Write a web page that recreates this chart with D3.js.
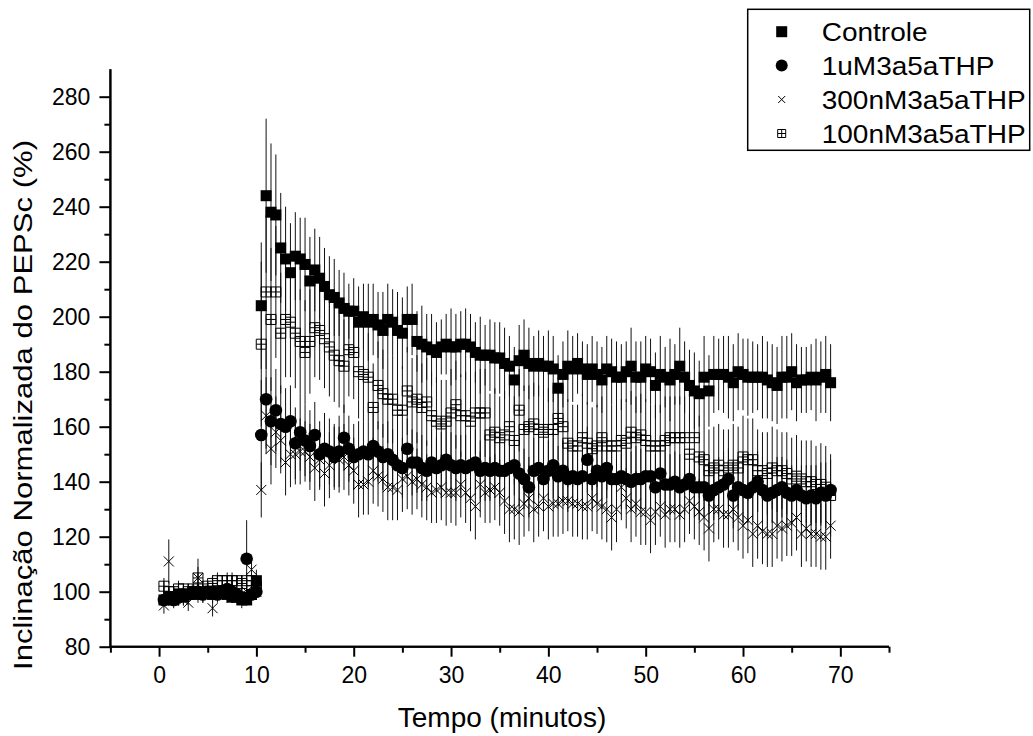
<!DOCTYPE html>
<html><head><meta charset="utf-8">
<script src="https://cdn.jsdelivr.net/npm/d3@7"></script>
<style>body{margin:0;background:#fff} text{font-family:"Liberation Sans",Arial,sans-serif;fill:#000}</style>
</head><body><svg id="c" width="1033" height="736"></svg>
<script>
const times = [0.5,1,1.5,2,2.5,3,3.5,4,4.5,5,5.5,6,6.5,7,7.5,8,8.5,9,9.5,10,
10.5,11,11.5,12,12.5,13,13.5,14,14.5,15,15.5,16,16.5,17,17.5,18,18.5,19,19.5,20,
20.5,21,21.5,22,22.5,23,23.5,24,24.5,25,25.5,26,26.5,27,27.5,28,28.5,29,29.5,30,
30.5,31,31.5,32,32.5,33,33.5,34,34.5,35,35.5,36,36.5,37,37.5,38,38.5,39,39.5,40,
40.5,41,41.5,42,42.5,43,43.5,44,44.5,45,45.5,46,46.5,47,47.5,48,48.5,49,49.5,50,
50.5,51,51.5,52,52.5,53,53.5,54,54.5,55,55.5,56,56.5,57,57.5,58,58.5,59,59.5,60,
60.5,61,61.5,62,62.5,63,63.5,64,64.5,65,65.5,66,66.5,67,67.5,68,68.5,69];

const seriesNames = ["Controle","1uM3a5aTHP","300nM3a5aTHP","100nM3a5aTHP"];

const controle = [97,98,97,99,98,99,100,99,100,100,99,100,100,99,98,98,97,97,99,104,
204,244,238,237,225,221,216,222,221,219,
213,217,214,211,208,207,205,203,202,202,
198,200,198,199,197,195,199,198,195,194,
199,199,191,190,189,188,187,189,190,189,
189,190,190,189,187,186,186,186,185,185,
183,182,177,184,186,183,182,183,182,182,
181,174,179,182,181,183,181,179,181,179,
177,181,180,178,178,180,182,178,178,181,
180,175,179,178,177,179,182,178,175,173,
172,178,173,179,179,179,178,176,180,179,
178,178,178,178,177,176,175,178,178,180,
176,177,177,178,177,178,179,176];
const controleErr = [2,3,2,2,3,2,2,3,2,2,3,2,2,3,2,2,3,2,2,4,
23,28,25,22,20,19,18,16,15,17,
16,15,15,14,14,14,12,13,10,12,
13,12,14,13,12,14,13,12,14,13,
12,13,11,14,12,13,11,10,11,14,
12,12,13,12,11,14,11,13,13,13,
13,11,12,13,13,13,11,12,11,13,
12,12,12,13,12,11,10,11,12,12,
12,12,12,13,12,11,14,13,13,12,
12,12,14,11,15,11,14,13,13,14,
12,15,13,14,13,14,15,14,14,13,
14,13,12,15,14,14,14,15,15,14,
14,12,12,12,15,13,14,14];

const um1 = [97,98,97,98,99,99,100,100,99,100,100,99,100,101,100,99,98,112,99,100,
157,170,162,166,161,160,162,154,158,155,
153,157,150,152,151,149,151,156,152,149,
150,151,150,153,151,149,150,148,146,145,
152,147,147,145,144,147,145,146,148,146,
145,146,145,146,147,144,145,144,145,144,
144,145,146,143,141,138,144,145,141,144,
146,142,144,141,142,141,142,148,141,144,
142,145,141,141,142,141,140,141,141,142,
142,138,143,139,139,140,138,139,141,138,
138,138,135,137,138,139,141,135,138,137,
136,138,140,137,135,136,137,138,136,135,
137,135,134,135,134,136,135,137];
const um1Err = [2,2,3,2,2,3,2,2,3,2,2,3,2,2,3,2,2,14,3,3,
20,18,16,15,14,14,13,13,14,13,
13,12,12,13,12,12,13,12,12,12,
12,11,12,12,11,12,12,11,12,11,
11,12,11,12,11,12,11,12,11,12,
12,11,12,11,12,11,12,11,11,12,
11,12,11,12,11,11,12,11,12,11,
12,11,11,12,11,12,11,12,11,11,
12,11,12,11,12,11,11,12,11,12,
11,12,11,12,11,11,12,11,12,11,
12,11,12,11,11,12,11,12,11,12,
11,12,11,12,11,11,12,11,12,11,
12,11,12,11,12,11,12,11];

const nm300 = [95,111,97,98,97,96,99,105,99,100,94,99,100,99,98,99,99,100,108,100,
137,164,152,158,155,147,150,150,151,151,
149,145,148,143,146,149,148,149,146,144,
139,139,140,144,142,141,138,138,137,141,
142,140,141,139,138,136,137,138,136,136,
136,139,136,134,131,139,136,137,138,136,
133,130,130,129,132,134,130,131,134,131,
132,132,133,133,132,132,131,131,134,132,
131,130,127,130,138,134,130,132,129,129,
126,129,131,128,130,130,128,130,133,131,
129,127,123,130,130,128,128,130,127,124,
126,121,124,122,121,121,124,123,124,125,
127,121,123,121,121,120,120,124];
const nm300Err = [3,8,2,3,2,3,2,4,3,2,3,2,3,2,2,3,2,2,4,3,
10,14,13,13,12,12,12,11,12,11,
12,12,11,12,12,11,12,12,11,12,
12,11,12,12,11,12,12,12,11,12,
12,12,11,12,12,11,12,12,12,11,
12,12,11,12,12,12,11,12,12,12,
12,12,11,12,12,12,12,11,12,12,
12,12,12,11,12,12,12,12,12,11,
12,12,12,12,12,11,12,12,12,12,
12,12,11,12,12,12,12,12,12,12,
12,12,12,12,11,12,12,12,12,12,
12,12,12,12,12,12,12,12,11,12,
12,12,12,12,12,12,12,12];

const nm100 = [102,100,100,101,101,100,101,105,101,102,103,104,104,104,104,104,103,104,104,102,
190,209,199,209,194,199,198,194,191,187,
191,196,195,192,189,186,184,182,188,187,
180,179,178,167,175,172,170,170,166,166,
173,169,170,167,169,164,162,161,162,165,
168,164,164,162,165,165,165,157,158,156,
157,160,155,166,159,160,161,159,158,159,
159,163,160,154,153,153,156,154,152,153,
156,153,153,153,155,154,158,156,157,155,
153,153,153,155,156,156,156,156,150,156,
149,148,144,145,146,144,145,146,145,149,
148,148,144,144,143,145,144,144,143,141,
142,141,140,140,139,139,138,135];
const nm100Err = [3,2,2,3,2,3,2,7,3,2,3,3,2,3,3,2,3,3,2,3,
30,28,26,24,22,21,20,20,19,19,
19,18,18,18,18,17,17,17,17,17,
17,17,16,16,16,16,16,16,16,16,
16,16,16,16,16,16,16,16,15,16,
16,15,16,16,15,16,16,15,16,15,
16,15,16,15,16,15,15,16,15,15,
16,15,15,16,15,15,16,15,15,15,
15,16,15,15,15,16,15,15,15,15,
15,15,15,16,15,15,15,15,15,15,
15,15,15,15,15,15,14,15,15,15,
15,15,15,14,15,15,15,14,15,15,
15,14,15,15,14,15,15,15];

const xTicks = [0,10,20,30,40,50,60,70];
const xMinorTicks = [-5,5,15,25,35,45,55,65,75];
const yTicks = [80,100,120,140,160,180,200,220,240,260,280];
const yMinorTicks = [90,110,130,150,170,190,210,230,250,270];
const xTitle = "Tempo (minutos)";
const yTitle = "Inclinação Normalizada do PEPSc (%)";

const svg = d3.select("#c");
const x = d3.scaleLinear().domain([-5,75]).range([110.4,889]);
const y = d3.scaleLinear().domain([80,290]).range([646.7,69.2]);

const series = [
  {name:seriesNames[0], vals:controle, errs:controleErr, sym:"square"},
  {name:seriesNames[1], vals:um1, errs:um1Err, sym:"circle"},
  {name:seriesNames[2], vals:nm300, errs:nm300Err, sym:"x"},
  {name:seriesNames[3], vals:nm100, errs:nm100Err, sym:"boxplus"}
];

function drawSym(g, sym, cx, cy, legend){
  if(sym==="square"){
    const s = 11;
    g.append("rect").attr("x",cx-s/2).attr("y",cy-s/2).attr("width",s).attr("height",s).attr("fill","#000");
  } else if(sym==="circle"){
    g.append("circle").attr("cx",cx).attr("cy",cy).attr("r",legend?6:6.3).attr("fill","#000");
  } else if(sym==="x"){
    const h = legend?3.5:5;
    g.append("path").attr("d",`M${cx-h},${cy-h}L${cx+h},${cy+h}M${cx-h},${cy+h}L${cx+h},${cy-h}`)
      .attr("stroke","#000").attr("stroke-width",1).attr("fill","none");
  } else {
    const h = legend?4:5;
    g.append("path").attr("d",`M${cx-h},${cy-h}H${cx+h}V${cy+h}H${cx-h}ZM${cx-h},${cy}H${cx+h}M${cx},${cy-h}V${cy+h}`)
      .attr("stroke","#000").attr("stroke-width",1).attr("fill","none");
  }
}

// error bars
const eb = svg.append("g");
series.forEach(s=>{
  times.forEach((t,i)=>{
    eb.append("line").attr("x1",x(t)).attr("x2",x(t))
      .attr("y1",y(s.vals[i]-s.errs[i])).attr("y2",y(s.vals[i]+s.errs[i]))
      .attr("stroke","#111").attr("stroke-width",1);
  });
});
// markers
const order = [3,2,0,1];
order.forEach(k=>{
  const s = series[k];
  const g = svg.append("g");
  times.forEach((t,i)=> drawSym(g, s.sym, x(t), y(s.vals[i]), false));
});

// axes
const axisG = svg.append("g");
const xa = axisG.append("g").attr("transform",`translate(0,${y(80)})`)
  .call(d3.axisBottom(x).tickValues(xTicks).tickSize(10).tickPadding(10).tickFormat(d3.format("d")));
const xm = axisG.append("g").attr("transform",`translate(0,${y(80)})`)
  .call(d3.axisBottom(x).tickValues(xMinorTicks).tickSize(6).tickFormat(""));
const ya = axisG.append("g").attr("transform",`translate(${x(-5)},0)`)
  .call(d3.axisLeft(y).tickValues(yTicks).tickSize(11).tickPadding(9).tickFormat(d3.format("d")));
const ym = axisG.append("g").attr("transform",`translate(${x(-5)},0)`)
  .call(d3.axisLeft(y).tickValues(yMinorTicks).tickSize(6).tickFormat(""));
[xa,xm,ya,ym].forEach(a=>{
  a.select(".domain").attr("stroke","#000").attr("stroke-width",2);
  a.selectAll(".tick line").attr("stroke","#000").attr("stroke-width",2);
  a.selectAll("text").style("font-family","'Liberation Sans',Arial,sans-serif").style("font-size","23px").attr("fill","#000");
});
xm.select(".domain").attr("d",`M${x(-5)},0H${x(75)}`);
xa.select(".domain").attr("d",`M${x(-5)},0H${x(75)}`);
ya.select(".domain").attr("d",`M0,${y(80)}V${y(290)}`);
ym.select(".domain").attr("d",`M0,${y(80)}V${y(290)}`);

svg.append("text").attr("x",502).attr("y",727).attr("text-anchor","middle")
  .style("font-size","28px").text(xTitle);
svg.append("text").attr("transform","translate(32,405) rotate(-90)").attr("text-anchor","middle")
  .style("font-size","26px").attr("textLength",530).attr("lengthAdjust","spacingAndGlyphs").text(yTitle);

// legend
const lg = svg.append("g");
lg.append("rect").attr("x",747.7).attr("y",9.3).attr("width",282).attr("height",141)
  .attr("fill","#fff").attr("stroke","#000").attr("stroke-width",1.5);
const rowY = [31.7,65.5,99.5,133.5];
series.forEach((s,i)=>{
  drawSym(lg, s.sym, 781.7, rowY[i], true);
  const t = lg.append("text").attr("x",821.7).attr("y",rowY[i]).attr("dy","0.36em")
    .style("font-size","25px").text(s.name);
  const L = t.node().getComputedTextLength();
  t.attr("textLength", L*1.12).attr("lengthAdjust","spacingAndGlyphs");
});
</script></body></html>
